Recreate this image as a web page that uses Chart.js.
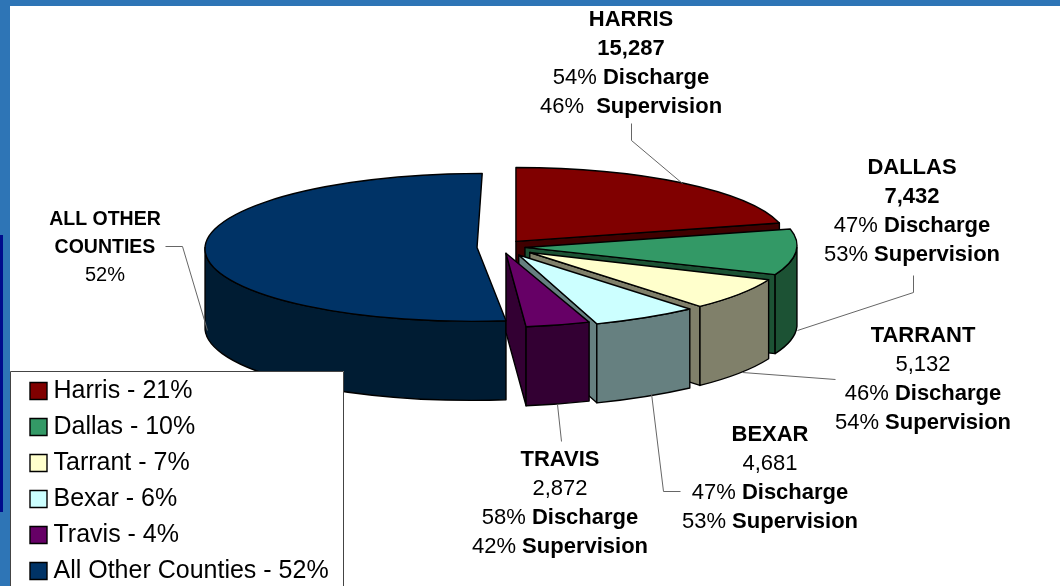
<!DOCTYPE html>
<html>
<head>
<meta charset="utf-8">
<style>html,body{margin:0;padding:0;background:#fff}canvas{display:block}</style>
<script src="https://cdn.jsdelivr.net/npm/chart.js@4"></script>
</head>
<body>
<canvas id="c" width="1060" height="586"></canvas>
<script>
const legendLabels = ['Harris - 21%','Dallas - 10%','Tarrant - 7%','Bexar - 6%','Travis - 4%','All Other Counties - 52%'];
const shares = [21,10,7,6,4,52];
const countyNames = ['HARRIS','DALLAS','TARRANT','BEXAR','TRAVIS'];
const countyTotals = ['15,287','7,432','5,132','4,681','2,872'];
const totalsBold = [true,true,false,false,false];
const dischargePct = ['54%','47%','46%','47%','58%'];
const supervisionPct = ['46%','53%','54%','53%','42%'];
const otherLabel = ['ALL OTHER','COUNTIES','52%'];

const topColors  = ['#800000','#339966','#ffffcc','#ccffff','#660066','#003366'];
const sideColors = ['#400000','#1c5234','#80806a','#668080','#330033','#001c33'];
const explode = [26,25,36,35,24,23];
const widthScale = [1,1,.9625,1.02,.943,1];
const shear = [0,-.1,-.167,-.35,-.164,-.07];
const squash = 0.272, depth = 79;
const paintOrder = [0,5,1,2,3,4];
const labelCentres = [[631,20],[912,168],[923,336],[770,435],[560,460]];
const leaders = [
  [[631,123],[631,140],[682,183]],
  [[913,275],[913,292],[797,330]],
  [[742,372],[835,379]],
  [[651,393],[663,491],[680,491]],
  [[557,404],[561,441]],
  [[165,246],[182,246],[207,330]]
];
const FONT = '"Liberation Sans", Arial, sans-serif';

function geom(el,i){
  const mid=(el.startAngle+el.endAngle)/2;
  return {
    x: el.x+explode[i]*Math.cos(mid),
    y: el.y+explode[i]*squash*Math.sin(mid),
    r: el.outerRadius, a: el.startAngle, b: el.endAngle,
    sx: widthScale[i], sk: shear[i]*squash
  };
}
function sliceFrame(ctx,g,z){ctx.transform(g.sx,0,g.sk,squash,g.x,g.y+z);}
function arcPart(ctx,g,z,from,to,ccw){
  ctx.save();sliceFrame(ctx,g,z);ctx.arc(0,0,g.r,from,to,ccw);ctx.restore();
}
function drawFace(ctx,g,t){
  const u=g.r*Math.cos(t), v=g.r*Math.sin(t);
  const ex=g.x+g.sx*u+g.sk*v, ey=g.y+squash*v;
  ctx.beginPath();
  ctx.moveTo(g.x,g.y);ctx.lineTo(ex,ey);ctx.lineTo(ex,ey+depth);ctx.lineTo(g.x,g.y+depth);ctx.closePath();
  ctx.fill();ctx.stroke();
}
function drawRuns(ctx,runs,cx,y,size){
  const fonts=runs.map(r=>(r[1]?'bold ':'')+size+'px '+FONT);
  let w=0;
  runs.forEach((r,i)=>{ctx.font=fonts[i];w+=ctx.measureText(r[0]).width;});
  let x=cx-w/2;
  runs.forEach((r,i)=>{ctx.font=fonts[i];ctx.fillText(r[0],x,y);x+=ctx.measureText(r[0]).width;});
}

const pie3d={
  id:'pie3d',
  beforeDraw(chart){
    const ctx=chart.ctx;
    ctx.save();
    ctx.fillStyle='#fff';ctx.fillRect(0,0,1060,586);
    ctx.fillStyle='#2e75b6';
    ctx.fillRect(0,0,1060,6);
    ctx.fillRect(0,0,10,586);
    ctx.fillStyle='#000c8c';
    ctx.fillRect(0,235,3,277);
    ctx.restore();
  },
  afterLayout(chart){
    const l=chart.legend;
    l.left=25;l.right=344;l.top=367.5;l.bottom=640;l.width=319;l.height=272.5;
    if(!l._realDraw){l._realDraw=l.draw;l.draw=function(){};}
  },
  beforeDatasetsDraw(chart){
    const ctx=chart.ctx, arcs=chart.getDatasetMeta(0).data;
    ctx.save();
    ctx.lineWidth=1.4;ctx.strokeStyle='#000';ctx.lineJoin='round';
    paintOrder.forEach(i=>{
      const g=geom(arcs[i],i);
      ctx.fillStyle=sideColors[i];
      const a=Math.max(g.a,0), b=Math.min(g.b,Math.PI);
      if(Math.cos(g.a)<0) drawFace(ctx,g,g.a);
      if(Math.cos(g.b)>0) drawFace(ctx,g,g.b);
      if(b>a){
        ctx.beginPath();
        arcPart(ctx,g,0,a,b,false);
        arcPart(ctx,g,depth,b,a,true);
        ctx.closePath();ctx.fill();ctx.stroke();
      }
    });
    paintOrder.forEach(i=>{
      const el=arcs[i], g=geom(el,i);
      ctx.save();
      sliceFrame(ctx,g,0);
      ctx.translate(-el.x,-el.y);
      el.draw(ctx);
      ctx.restore();
      ctx.beginPath();
      ctx.moveTo(g.x,g.y);
      arcPart(ctx,g,0,g.a,g.b,false);
      ctx.closePath();ctx.stroke();
    });
    ctx.strokeStyle='#666';ctx.lineWidth=1;
    leaders.forEach(p=>{
      ctx.beginPath();
      p.forEach((q,j)=>j?ctx.lineTo(q[0]+.5,q[1]+.5):ctx.moveTo(q[0]+.5,q[1]+.5));
      ctx.stroke();
    });
    ctx.fillStyle='#000';ctx.textBaseline='middle';ctx.textAlign='left';
    countyNames.forEach((n,i)=>{
      const [cx,y0]=labelCentres[i];
      drawRuns(ctx,[[n,true]],cx,y0,22);
      drawRuns(ctx,[[countyTotals[i],totalsBold[i]]],cx,y0+29,22);
      drawRuns(ctx,[[dischargePct[i]+' ',false],['Discharge',true]],cx,y0+58,22);
      drawRuns(ctx,[[supervisionPct[i]+(i===0?'  ':' '),false],['Supervision',true]],cx,y0+87,22);
    });
    drawRuns(ctx,[[otherLabel[0],true]],105,220,19.5);
    drawRuns(ctx,[[otherLabel[1],true]],105,248,19.5);
    drawRuns(ctx,[[otherLabel[2],false]],105,275,20);
    ctx.fillStyle='#fff';ctx.strokeStyle='#444';ctx.lineWidth=1;
    ctx.fillRect(10,371,334,215);
    ctx.strokeRect(10.5,371.5,333,230);
    ctx.restore();
    chart.legend._realDraw();
    return false;
  }
};

new Chart(document.getElementById('c'),{
  type:'pie',
  data:{labels:legendLabels,datasets:[{data:shares,backgroundColor:topColors,borderWidth:0,clip:false}]},
  options:{
    responsive:false,animation:false,radius:272,rotation:0,
    layout:{padding:{left:0,top:0,right:60,bottom:92}},
    events:[],
    plugins:{
      tooltip:{enabled:false},
      legend:{
        display:true,position:'chartArea',align:'start',
        labels:{
          font:{family:FONT,size:25},color:'#000',padding:11,
          boxWidth:5,boxHeight:17,usePointStyle:true,pointStyle:'rect',
          generateLabels(chart){
            return chart.data.labels.map((t,i)=>({text:t,fillStyle:topColors[i],strokeStyle:'#000',lineWidth:1.4,fontColor:'#000',pointStyle:'rect',hidden:false,index:i}));
          }
        }
      }
    }
  },
  plugins:[pie3d]
});
</script>
</body>
</html>
